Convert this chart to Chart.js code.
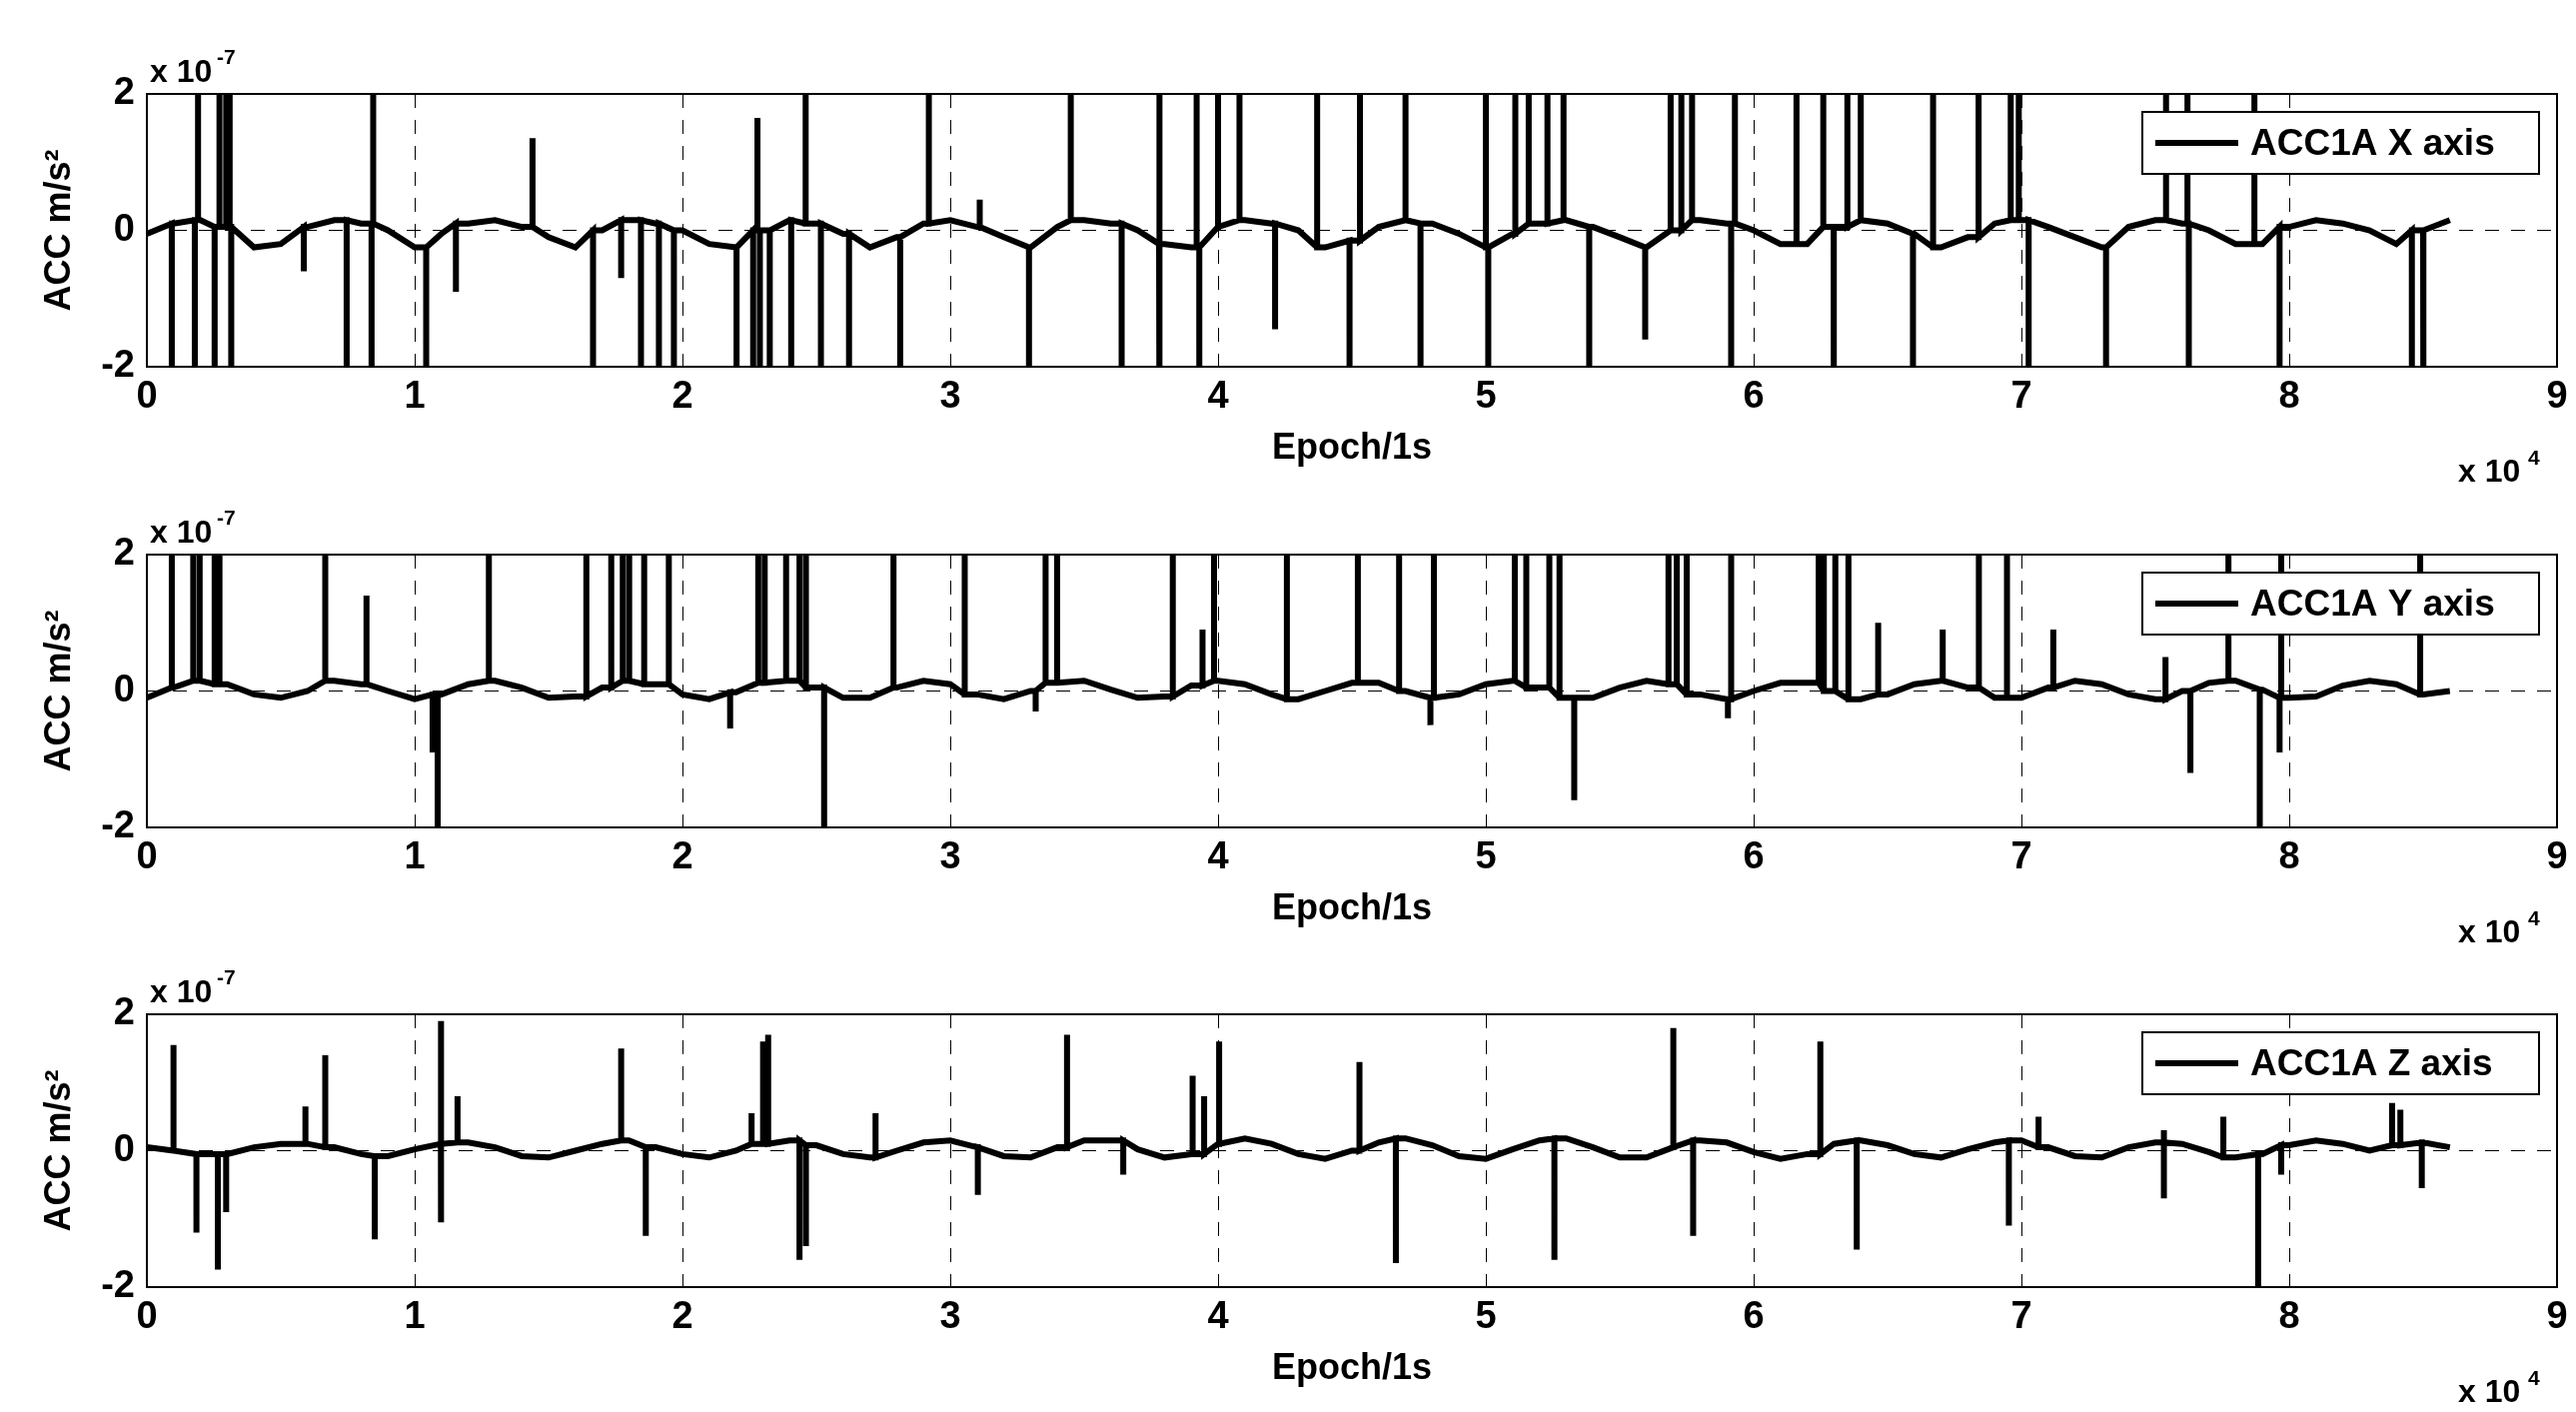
<!DOCTYPE html>
<html lang="en">
<head>
<meta charset="UTF-8">
<title>ACC1A</title>
<script src="https://cdn.jsdelivr.net/npm/chart.js"></script>
<style>
  body { margin: 0; background: #fff; width: 2578px; height: 1413px; overflow: hidden; position: relative; }
  .panel { position: absolute; left: 0; width: 2578px; height: 500px; }
</style>
</head>
<body>
<div class="panel" style="top:0px"><canvas id="cx"></canvas></div>
<div class="panel" style="top:461px"><canvas id="cy"></canvas></div>
<div class="panel" style="top:921px"><canvas id="cz"></canvas></div>
<script>
// epochs in units of 1e4 s, accelerations in units of 1e-7 m/s^2
const baseStep = 0.1;
const baseX = [-0.05,0.1,0.15,0.05,-0.25,-0.2,0.05,0.15,0.1,0,-0.25,-0.05,0.1,0.15,0.05,-0.1,-0.25,0,0.15,0.1,
  0,-0.2,-0.25,0,0.15,0.1,-0.05,-0.25,-0.1,0.1,0.15,0.05,-0.1,-0.25,0.05,0.15,0.1,0,-0.2,-0.25,
  0.05,0.15,0.1,0,-0.25,-0.15,0.05,0.15,0.1,-0.05,-0.25,-0.05,0.1,0.15,0.05,-0.1,-0.25,0,0.15,0.1,
  0,-0.2,-0.2,0.05,0.15,0.1,-0.05,-0.25,-0.1,0.1,0.15,0.05,-0.1,-0.25,0.05,0.15,0.1,0,-0.2,-0.2,
  0.05,0.15,0.1,0,-0.2,0,0.15];
const baseY = [-0.1,0.05,0.15,0.1,-0.05,-0.1,0,0.15,0.1,0,-0.12,-0.05,0.1,0.15,0.05,-0.1,-0.08,0.05,0.15,0.1,
  -0.05,-0.12,-0.02,0.12,0.15,0.05,-0.1,-0.1,0.05,0.15,0.1,-0.05,-0.12,0,0.12,0.15,0.02,-0.1,-0.08,0.08,
  0.15,0.1,-0.05,-0.12,0,0.12,0.12,0,-0.1,-0.05,0.1,0.15,0.05,-0.1,-0.1,0.05,0.15,0.1,-0.05,-0.12,
  0,0.12,0.12,0,-0.12,-0.05,0.1,0.15,0.05,-0.1,-0.1,0.05,0.15,0.1,-0.05,-0.12,0,0.12,0.15,0.02,
  -0.1,-0.08,0.08,0.15,0.1,-0.05,0];
const baseZ = [0.05,0,-0.05,-0.05,0.05,0.1,0.1,0.05,-0.05,-0.08,0.02,0.1,0.12,0.05,-0.08,-0.1,0,0.1,0.15,0.05,
  -0.05,-0.1,0,0.1,0.15,0.08,-0.05,-0.1,0,0.12,0.15,0.05,-0.08,-0.1,0.05,0.15,0.15,0.02,-0.1,-0.05,
  0.1,0.18,0.1,-0.05,-0.12,0,0.12,0.18,0.08,-0.08,-0.12,0.02,0.15,0.18,0.05,-0.1,-0.1,0.05,0.15,0.12,
  -0.02,-0.12,-0.05,0.1,0.15,0.08,-0.05,-0.1,0.02,0.12,0.15,0.05,-0.08,-0.1,0.05,0.12,0.1,-0.02,-0.1,-0.05,
  0.08,0.15,0.1,0,0.08,0.12,0.05];

const spikesXpos = [0.191,0.271,0.296,0.309,0.845,1.44,2.28,2.46,2.92,3.11,3.45,3.78,3.92,4.0,4.08,4.37,4.53,4.70,5.0,
  5.11,5.16,5.23,5.29,5.69,5.73,5.77,5.93,6.16,6.26,6.35,6.40,6.67,6.84,6.96,6.99,7.54,7.62,7.87];
const spikesXposVal = [3,3,3,3,3,1.35,1.65,3,3,0.45,3,3,3,3,3,3,3,3,3,3,3,3,3,3,3,3,3,3,3,3,3,3,3,3,3,3,3,3];
const spikesXneg = [0.093,0.179,0.253,0.315,0.586,0.746,0.839,1.043,1.154,1.666,1.771,1.845,1.912,1.968,2.202,2.264,
  2.289,2.326,2.406,2.517,2.622,2.813,3.294,3.640,3.782,3.930,4.213,4.491,4.756,5.009,5.386,5.595,5.916,6.299,
  6.595,7.027,7.316,7.625,7.964,8.458,8.501];
const spikesXnegVal = [-3,-3,-3,-3,-0.6,-3,-3,-3,-0.9,-3,-0.7,-3,-3,-3,-3,-3,-3,-3,-3,-3,-3,-3,-3,-3,-3,-3,-1.45,
  -3,-3,-3,-3,-1.6,-3,-3,-3,-3,-3,-3,-3,-3,-3];

const spikesYpos = [0.093,0.173,0.197,0.253,0.271,0.666,0.820,1.277,1.641,1.734,1.777,1.801,1.857,1.949,2.283,2.307,
  2.387,2.437,2.461,2.788,3.054,3.356,3.399,3.831,3.942,3.985,4.257,4.522,4.676,4.806,5.108,5.151,5.237,5.275,
  5.682,5.713,5.750,5.916,6.243,6.262,6.305,6.354,6.465,6.706,6.841,6.946,7.119,7.538,7.773,7.970,8.489];
const spikesYposVal = [3,3,3,3,3,3,1.4,3,3,3,3,3,3,3,3,3,3,3,3,3,3,3,3,3,0.9,3,3,3,3,3,3,3,3,3,3,3,3,3,3,3,3,3,
  1.0,0.9,3,3,0.9,0.5,3,3,3];
const spikesYneg = [1.067,1.086,2.178,2.529,3.319,4.793,5.330,5.904,7.631,7.890,7.964];
const spikesYnegVal = [-0.9,-3,-0.55,-3,-0.3,-0.5,-1.6,-0.4,-1.2,-3,-0.9];

const spikesZpos = [0.099,0.592,0.666,1.098,1.160,1.771,2.258,2.301,2.320,2.721,3.436,3.905,3.948,4.004,4.528,5.700,
  6.249,7.064,7.532,7.754,8.384,8.415];
const spikesZposVal = [1.55,0.65,1.4,1.9,0.8,1.5,0.55,1.6,1.7,0.55,1.7,1.1,0.8,1.6,1.3,1.8,1.6,0.5,0.3,0.5,0.7,0.6];
const spikesZneg = [0.185,0.265,0.296,0.851,1.098,1.863,2.437,2.461,3.103,3.646,4.664,5.256,5.774,6.385,6.953,7.532,
  7.884,7.970,8.495];
const spikesZnegVal = [-1.2,-1.7,-0.9,-1.3,-1.05,-1.25,-1.6,-1.4,-0.65,-0.35,-1.65,-1.6,-1.25,-1.45,-1.1,-0.7,-3,-0.35,-0.55];

const xTicks = [0,1,2,3,4,5,6,7,8,9];
const yTicks = [-2,0,2];

function buildData(base, pos, posVal, neg, negVal) {
  const pts = base.map((v, i) => ({ x: +(i * baseStep).toFixed(2), y: v }));
  const sp = [];
  pos.forEach((x, i) => sp.push([x, posVal[i]]));
  neg.forEach((x, i) => sp.push([x, negVal[i]]));
  sp.forEach(([x, v]) => {
    const b = base[Math.min(base.length - 1, Math.round(x / baseStep))];
    pts.push({ x: x - 0.0001, y: b }, { x: x, y: v }, { x: x + 0.0001, y: b });
  });
  pts.sort((a, b) => a.x - b.x);
  return pts;
}

const FONT = 'Arial, "Liberation Sans", sans-serif';
const frame = {
  id: 'frame',
  afterDraw(chart, args, opts) {
    const { ctx, chartArea: a } = chart;
    ctx.save();
    ctx.setLineDash([]);
    ctx.strokeStyle = '#000'; ctx.lineWidth = 2;
    ctx.strokeRect(a.left, a.top, a.right - a.left, a.bottom - a.top);
    ctx.fillStyle = '#000';
    ctx.font = 'bold 36px ' + FONT;
    ctx.textAlign = 'center'; ctx.textBaseline = 'alphabetic';
    ctx.fillText('Epoch/1s', (a.left + a.right) / 2, a.bottom + 92);
    // exponents
    ctx.textAlign = 'left';
    ctx.font = 'bold 32px ' + FONT;
    ctx.fillText('x 10', 2460, a.bottom + 115);
    ctx.fillText('x 10', 150, a.top - 12);
    ctx.font = 'bold 21px ' + FONT;
    ctx.fillText('4', 2530, a.bottom + 98);
    ctx.fillText('-7', 217, a.top - 30);
    // y title
    ctx.save();
    ctx.translate(58, (a.top + a.bottom) / 2);
    ctx.rotate(-Math.PI / 2);
    ctx.textAlign = 'center';
    ctx.font = 'bold 36px ' + FONT;
    ctx.fillText('ACC m/s\u00B2', 0, 12);
    ctx.restore();
    // legend
    const lx = 2144, ly = a.top + 18, lw = 397, lh = 62;
    ctx.fillStyle = '#fff';
    ctx.fillRect(lx, ly, lw, lh);
    ctx.strokeRect(lx, ly, lw, lh);
    ctx.lineWidth = 6;
    ctx.beginPath(); ctx.moveTo(lx + 13, ly + lh / 2); ctx.lineTo(lx + 96, ly + lh / 2); ctx.stroke();
    ctx.fillStyle = '#000';
    ctx.font = 'bold 37px ' + FONT;
    ctx.textAlign = 'left'; ctx.textBaseline = 'middle';
    ctx.fillText(opts.label, lx + 108, ly + lh / 2 + 2);
    ctx.restore();
  }
};

function makeChart(id, label, data) {
  new Chart(document.getElementById(id), {
    type: 'line',
    data: { datasets: [{ data, borderColor: '#000', borderWidth: 6, pointRadius: 0, tension: 0, fill: false }] },
    options: {
      responsive: true, maintainAspectRatio: false, animation: false,
      layout: { padding: { left: 47, right: 19, top: 94, bottom: 73 } },
      plugins: { legend: { display: false }, tooltip: { enabled: false }, frame: { label } },
      scales: {
        x: {
          type: 'linear', min: 0, max: 9,
          afterBuildTicks: s => { s.ticks = xTicks.map(v => ({ value: v })); },
          afterFit: s => { s.height = 60; },
          border: { display: false, dash: [14, 12] },
          grid: { color: c => (c.tick.value > 0 && c.tick.value < 9) ? '#000' : 'rgba(0,0,0,0)', lineWidth: 1, tickLength: 0 },
          ticks: { color: '#000', font: { family: FONT, size: 38, weight: 'bold' }, padding: 8, maxRotation: 0 }
        },
        y: {
          min: -2, max: 2,
          afterBuildTicks: s => { s.ticks = yTicks.map(v => ({ value: v })); },
          afterFit: s => { s.width = 100; },
          border: { display: false, dash: [14, 12] },
          grid: { color: c => c.tick.value === 0 ? '#000' : 'rgba(0,0,0,0)', lineWidth: 1, tickLength: 0 },
          ticks: { color: '#000', font: { family: FONT, size: 38, weight: 'bold' }, padding: 12 }
        }
      }
    },
    plugins: [frame]
  });
}

makeChart('cx', 'ACC1A X axis', buildData(baseX, spikesXpos, spikesXposVal, spikesXneg, spikesXnegVal));
makeChart('cy', 'ACC1A Y axis', buildData(baseY, spikesYpos, spikesYposVal, spikesYneg, spikesYnegVal));
makeChart('cz', 'ACC1A Z axis', buildData(baseZ, spikesZpos, spikesZposVal, spikesZneg, spikesZnegVal));
</script>
</body>
</html>
